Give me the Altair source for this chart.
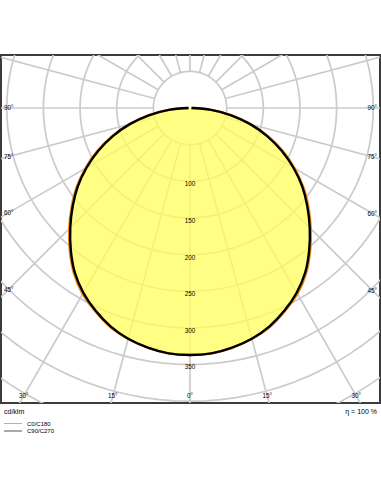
import altair as alt
import pandas as pd
import numpy as np

# ---- data ----
gamma = [0, 5, 10, 15, 20, 25, 30, 35, 40, 45, 50, 55, 60, 65, 70, 75, 80, 85, 90]
c0_c180 = [337, 336, 332, 326, 318, 306, 293, 276, 255, 233, 211, 189, 165, 140, 114, 86, 58, 29, 2]
c90_c270 = [337, 336, 332, 326, 317, 305, 291, 274, 253, 231, 209, 187, 163, 138, 112, 85, 57, 29, 2]
ring_values = [50, 100, 150, 200, 250, 300, 350, 400, 450, 500]
ring_labels = [100, 150, 200, 250, 300, 350]
grid_angles = list(range(0, 360, 15))
side_angles = [90, 75, 60, 45]
bottom_angles = [0, 15, 30]
legend_names = ["C0/C180", "C90/C270"]
legend_colors = ["#f5a640", "#555555"]
unit_text = "cd/klm"
eta_text = "η = 100 %"

# ---- geometry of the plotting frame ----
W, H = 379, 348
k = 0.733            # px per cd/klm
cxp, cyp = 189, 53   # centre in plot pixels
XMIN, XMAX = -cxp / k, (W - cxp) / k
YMIN, YMAX = -(H - cyp) / k, cyp / k

xs = alt.Scale(domain=[XMIN, XMAX], nice=False, zero=False)
ys = alt.Scale(domain=[YMIN, YMAX], nice=False, zero=False)

# rings
rows = []
for v in ring_values:
    for j, a in enumerate(range(0, 361, 3)):
        t = np.radians(a)
        rows.append({"ring": v, "i": j, "x": v * np.sin(t), "y": -v * np.cos(t)})
rings_df = pd.DataFrame(rows)

# radials
rad_df = pd.DataFrame([
    {"a": a,
     "x": 50 * np.sin(np.radians(a)), "y": -50 * np.cos(np.radians(a)),
     "x2": 800 * np.sin(np.radians(a)), "y2": -800 * np.cos(np.radians(a))}
    for a in grid_angles])


def curve(vals, name):
    pts = []
    seq = [(-g, v) for g, v in zip(gamma[::-1], vals[::-1])] + [(g, v) for g, v in zip(gamma[1:], vals[1:])]
    for i, (g, v) in enumerate(seq):
        t = np.radians(g)
        pts.append({"plane": name, "i": i, "x": v * np.sin(t), "y": -v * np.cos(t)})
    return pd.DataFrame(pts)


c0_df = curve(c0_c180, "C0/C180")
c90_df = curve(c90_c270, "C90/C270")

# labels
val_df = pd.DataFrame({"v": ring_labels, "y": [-v - 4 for v in ring_labels], "x": [0] * len(ring_labels),
                       "t": [str(v) for v in ring_labels]})
side_rows = []
for a in side_angles:
    xe = -(cxp - 7) / k
    yv = 0 if a == 90 else -abs(xe) / np.tan(np.radians(a))
    side_rows.append({"x": xe, "y": yv, "t": f"{a}°", "al": "left"})
    xe2 = (W - cxp - 7) / k
    yv2 = 0 if a == 90 else -abs(xe2) / np.tan(np.radians(a))
    side_rows.append({"x": xe2, "y": yv2, "t": f"{a}°", "al": "right"})
side_df = pd.DataFrame(side_rows)
bottom_rows = []
yb = YMIN + 7 / k
for a in bottom_angles:
    for s in ([1] if a == 0 else [-1, 1]):
        bottom_rows.append({"x": s * abs(yb) * np.tan(np.radians(a)), "y": yb, "t": f"{a}°"})
bottom_df = pd.DataFrame(bottom_rows)

X = lambda f="x": alt.X(f"{f}:Q", scale=xs, axis=None)
Y = lambda f="y": alt.Y(f"{f}:Q", scale=ys, axis=None)

grid_color = "#cbcbcb"

rings = alt.Chart(rings_df).mark_line(color=grid_color, strokeWidth=1.7, clip=True).encode(
    x=X(), y=Y(), detail="ring:N", order="i:Q")
radials = alt.Chart(rad_df).mark_rule(color=grid_color, strokeWidth=1.7, clip=True).encode(
    x=X(), y=Y(), x2="x2:Q", y2="y2:Q")

fill = alt.Chart(c0_df).mark_line(fill="#ffff5a", fillOpacity=0.75, strokeOpacity=0,
                                  interpolate="catmull-rom").encode(x=X(), y=Y(), order="i:Q")
line0 = alt.Chart(c0_df).mark_line(color="#f08a10", strokeWidth=2.4, interpolate="catmull-rom").encode(
    x=X(), y=Y(), order="i:Q")
line90 = alt.Chart(c90_df).mark_line(color="#000000", strokeWidth=2.4, interpolate="catmull-rom").encode(
    x=X(), y=Y(), order="i:Q")

font = "Liberation Sans"
vlabels = alt.Chart(val_df).mark_text(fontSize=6.3, font=font, color="#000", baseline="middle").encode(
    x=X(), y=Y(), text="t:N")
slab_l = alt.Chart(side_df[side_df.al == "left"]).mark_text(fontSize=6.3, font=font, color="#000",
                                                             align="left", baseline="middle", dx=-4).encode(
    x=X(), y=Y(), text="t:N")
slab_r = alt.Chart(side_df[side_df.al == "right"]).mark_text(fontSize=6.3, font=font, color="#000",
                                                              align="right", baseline="middle", dx=4).encode(
    x=X(), y=Y(), text="t:N")
blab = alt.Chart(bottom_df).mark_text(fontSize=6.3, font=font, color="#000", baseline="middle").encode(
    x=X(), y=Y(), text="t:N")

unit = alt.Chart(pd.DataFrame({"t": [unit_text]})).mark_text(
    fontSize=7, font=font, color="#000", align="left", baseline="middle").encode(
    x=alt.value(3), y=alt.value(357), text="t:N")
eta = alt.Chart(pd.DataFrame({"t": [eta_text]})).mark_text(
    fontSize=7, font=font, color="#000", align="right", baseline="middle").encode(
    x=alt.value(376), y=alt.value(357), text="t:N")

legend_layers = []
leg_y = [368.5, 376]
for name, col, yy in zip(legend_names, legend_colors, leg_y):
    d = pd.DataFrame({"name": [name]})
    legend_layers.append(alt.Chart(d).mark_rule(strokeWidth=1, color=col).encode(
        x=alt.value(3), x2=alt.value(21), y=alt.value(yy)))
    legend_layers.append(alt.Chart(d).mark_text(fontSize=6, font=font, color="#000", align="left",
                                                baseline="middle").encode(
        x=alt.value(26), y=alt.value(yy), text="name:N"))

chart = alt.layer(rings, radials, fill, line0, line90, vlabels, slab_l, slab_r, blab,
                  unit, eta, *legend_layers).properties(
    width=W, height=H,
    autosize=alt.AutoSizeParams(type="none"),
    padding={"left": 1, "top": 55, "right": 1, "bottom": 89},
    background="white",
).configure_view(stroke="#3c3c3c", strokeWidth=2)

chart.save("out.html", embed_options={"renderer": "svg", "actions": False})
